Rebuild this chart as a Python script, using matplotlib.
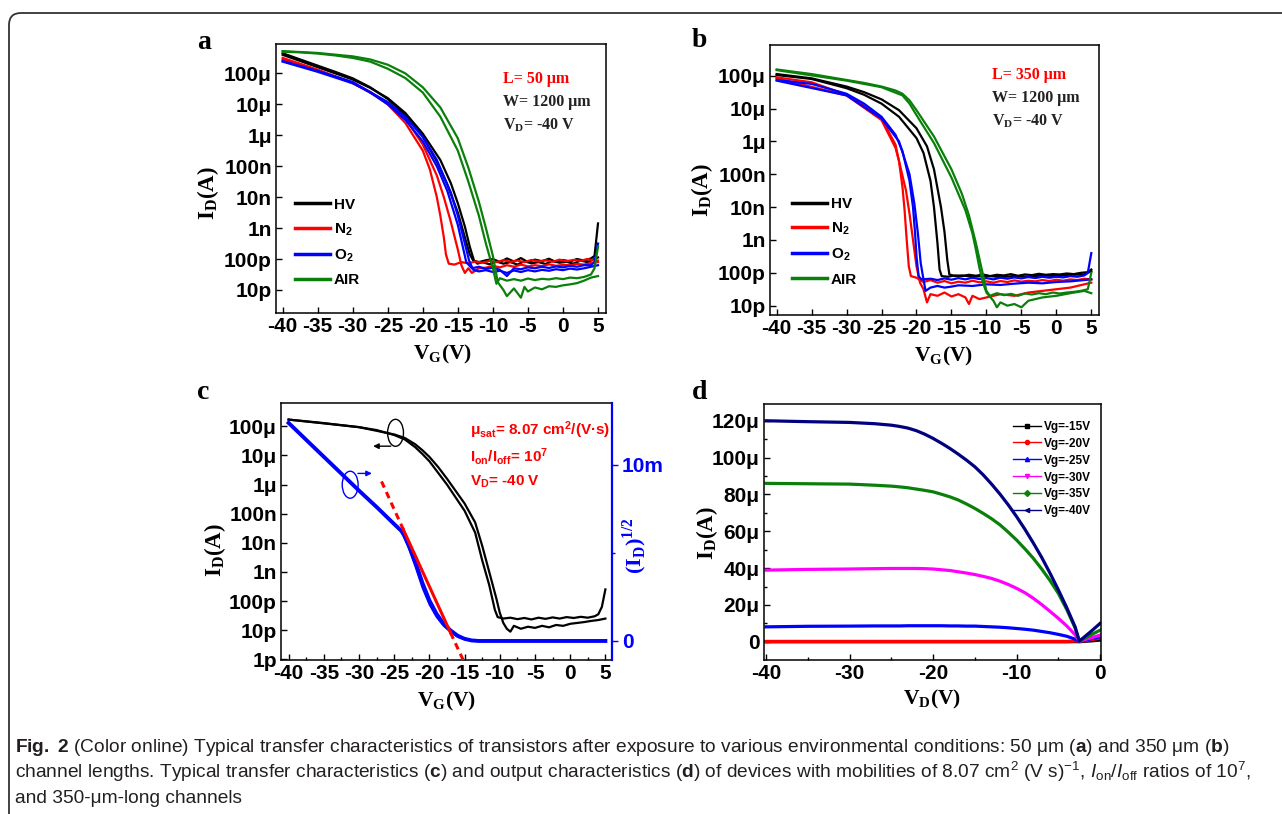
import numpy as np
import matplotlib
matplotlib.use('Agg')
import matplotlib.pyplot as plt
from matplotlib import font_manager
from matplotlib.patches import Ellipse, FancyBboxPatch
from matplotlib.lines import Line2D
from matplotlib.transforms import IdentityTransform
from matplotlib.ticker import FixedLocator, MultipleLocator, LogLocator, NullLocator, NullFormatter

W, H = 1282, 814

# ---------------- data (log10 of drain current in A) ----------------
# panel a: L = 50 um, two sweep branches per condition
a_hv1_v = [-40, -37.5, -35, -32.5, -30, -27.5, -25, -22.5, -20, -18, -16.5, -15, -14, -13.3, -12.8, -12, -11, -10, -9, -8,
           -7, -6, -5, -4, -3, -2, -1, 0, 1, 2, 3, 4, 4.5, 5]
a_hv1 = [-3.35, -3.55, -3.75, -3.95, -4.16, -4.45, -4.83, -5.35, -6.05, -6.85, -7.6, -8.5, -9.3, -9.85, -10.05, -10.1,
         -10.04, -10.0, -10.1, -9.98, -10.08, -9.97, -10.1, -10.02, -10.07, -9.99, -10.1, -10.03, -10.08, -10.0, -10.05,
         -9.98, -9.9, -8.85]
a_hv2_v = [-40, -35, -30, -27.5, -25, -22.5, -20, -17.5, -16, -15, -14, -13.3, -12.7, -12.2, -11.5, -10.5, -9.5, -8.5,
           -7.5, -6.5, -5.5, -4.5, -3.5, -2.5, -1.5, -0.5, 0.5, 1.5, 2.5, 3.5, 4.5, 5]
a_hv2 = [-3.4, -3.8, -4.2, -4.47, -4.8, -5.28, -5.95, -6.8, -7.55, -8.2, -8.95, -9.6, -10.05, -10.15, -10.1, -10.17,
         -10.08, -10.15, -10.1, -10.18, -10.07, -10.14, -10.1, -10.16, -10.06, -10.12, -10.09, -10.15, -10.05, -10.1,
         -10.0, -9.95]
a_n2_1_v = [-40, -35, -30, -27.5, -25, -22.5, -20, -19, -18, -17.5, -17, -16.7, -16.3, -15.5, -14.5, -13.5, -12.5,
            -11.5, -10.5, -9.5, -8.5, -7.5, -6.5, -5.5, -4.5, -3.5, -2.5, -1.5, -0.5, 0.5, 1.5, 2.5, 3.5, 4.5, 5]
a_n2_1 = [-3.5, -3.88, -4.32, -4.6, -5.0, -5.6, -6.5, -7.1, -8.0, -8.6, -9.3, -9.85, -10.15, -10.18, -10.1, -10.14,
          -10.08, -10.12, -10.06, -10.1, -10.04, -10.09, -10.05, -10.1, -10.03, -10.08, -10.04, -10.09, -10.02, -10.07,
          -10.03, -10.06, -10.0, -10.05, -10.05]
a_n2_2_v = [-40, -35, -30, -25, -22.5, -20, -18, -17, -16, -15, -14.5, -14, -13.5, -13, -12, -11, -10, -9, -8, -7,
            -6, -5, -4, -3, -2, -1, 0, 1, 2, 3, 4, 5]
a_n2_2 = [-3.55, -3.9, -4.3, -4.95, -5.45, -6.3, -7.3, -8.0, -8.8, -9.7, -10.2, -10.45, -10.3, -10.45, -10.3, -10.28,
          -10.22, -10.27, -10.2, -10.25, -10.18, -10.24, -10.2, -10.23, -10.17, -10.22, -10.19, -10.2, -10.16, -10.18,
          -10.13, -10.1]
a_o2_1_v = [-40, -35, -30, -27.5, -25, -22.5, -20, -18, -16.5, -15, -14.3, -13.8, -13, -12, -11, -10, -9, -8, -7, -6,
            -5, -4, -3, -2, -1, 0, 1, 2, 3, 4, 4.5, 5]
a_o2_1 = [-3.62, -3.95, -4.32, -4.62, -5.0, -5.5, -6.2, -7.0, -7.8, -8.9, -9.6, -10.1, -10.3, -10.25, -10.32, -10.28,
          -10.35, -10.55, -10.3, -10.33, -10.27, -10.3, -10.25, -10.29, -10.24, -10.27, -10.22, -10.25, -10.2, -10.2,
          -10.1, -9.5]
a_o2_2_v = [-40, -35, -30, -25, -22.5, -20, -18, -16, -15, -14, -13.4, -12.8, -12, -11, -10, -9, -8, -7, -6, -5,
            -4, -3, -2, -1, 0, 1, 2, 3, 4, 5]
a_o2_2 = [-3.6, -3.92, -4.28, -4.93, -5.4, -6.05, -6.8, -7.85, -8.6, -9.5, -10.05, -10.35, -10.4, -10.36, -10.42,
          -10.38, -10.45, -10.37, -10.42, -10.36, -10.4, -10.35, -10.38, -10.33, -10.36, -10.31, -10.34, -10.3, -10.25,
          -10.2]
a_air1_v = [-40, -37.5, -35, -32.5, -30, -27.5, -25, -22.5, -20, -17.5, -15, -13.5, -12, -11, -10, -9.5, -9, -8, -7,
            -6, -5, -4, -3, -2, -1, 0, 1, 2, 3, 4, 4.5, 5]
a_air1 = [-3.3, -3.32, -3.36, -3.42, -3.5, -3.62, -3.85, -4.15, -4.62, -5.4, -6.5, -7.5, -8.6, -9.5, -10.3, -10.8,
          -10.62, -10.7, -10.65, -10.7, -10.63, -10.68, -10.64, -10.66, -10.62, -10.65, -10.6, -10.62, -10.58, -10.5,
          -10.3, -9.6]
a_air2_v = [-40, -35, -30, -27.5, -25, -22.5, -20, -17.5, -15, -13.5, -12, -11, -10, -9.3, -8.5, -8, -7, -6, -5.5,
            -5, -4, -3, -2, -1, 0, 1, 2, 3, 4, 5]
a_air2 = [-3.28, -3.34, -3.45, -3.55, -3.72, -4.0, -4.45, -5.1, -6.1, -7.05, -8.15, -9.0, -9.9, -10.75, -11.0, -11.2,
          -10.95, -11.25, -10.9, -11.05, -10.92, -10.98, -10.88, -10.9, -10.85, -10.82, -10.78, -10.7, -10.6, -10.55]

# panel b: L = 350 um
b_hv1_v = [-40, -35, -30, -27.5, -25, -22.5, -20, -19, -18, -17.5, -17, -16.7, -16.4, -15.5, -14.5, -13.5, -12.5,
           -11.5, -10.5, -9.5, -8.5, -7.5, -6.5, -5.5, -4.5, -3.5, -2.5, -1.5, -0.5, 0.5, 1.5, 2.5, 3.5, 4.5, 5]
b_hv1 = [-3.98, -4.1, -4.38, -4.58, -4.85, -5.25, -5.9, -6.35, -7.2, -8.0, -9.1, -9.9, -10.1, -10.12, -10.08, -10.1,
         -10.06, -10.09, -10.05, -10.1, -10.06, -10.08, -10.04, -10.09, -10.05, -10.07, -10.03, -10.06, -10.04, -10.05,
         -10.02, -10.04, -10.0, -9.98, -9.9]
b_hv2_v = [-40, -35, -30, -27.5, -25, -22.5, -20, -18.5, -17.5, -16.5, -16, -15.6, -15.3, -14.5, -13.5, -12, -10, -8,
           -6, -4, -2, 0, 2, 4, 5]
b_hv2 = [-3.95, -4.08, -4.33, -4.5, -4.72, -5.05, -5.6, -6.15, -6.85, -8.0, -8.75, -9.6, -10.05, -10.1, -10.08,
         -10.12, -10.09, -10.13, -10.1, -10.12, -10.08, -10.1, -10.06, -10.05, -9.95]
b_n2_1_v = [-40, -35, -30, -27.5, -25, -23, -22.5, -22, -21.7, -21.4, -21.1, -20.8, -20, -19, -18, -17, -16, -15,
            -14, -13, -12, -11, -10, -9, -8, -7, -6, -5, -4, -3, -2, -1, 0, 1, 2, 3, 4, 5]
b_n2_1 = [-4.05, -4.2, -4.58, -4.9, -5.3, -6.1, -6.6, -7.4, -8.1, -9.0, -9.8, -10.1, -10.15, -10.28, -10.22, -10.3,
          -10.25, -10.32, -10.27, -10.3, -10.24, -10.29, -10.26, -10.3, -10.25, -10.28, -10.23, -10.27, -10.24,
          -10.26, -10.22, -10.25, -10.21, -10.24, -10.2, -10.22, -10.18, -10.2]
b_n2_2_v = [-40, -30, -25, -23, -22.5, -21.5, -21, -20.5, -20, -19.5, -19, -18.5, -18, -17, -16, -15, -14, -13,
            -12.5, -12, -11, -10, -8, -6, -4, -2, 0, 2, 4, 5]
b_n2_2 = [-4.08, -4.6, -5.35, -6.2, -6.6, -7.5, -8.2, -9.0, -9.8, -10.3, -10.5, -10.9, -10.65, -10.7, -10.6, -10.72,
          -10.65, -10.75, -10.95, -10.7, -10.8, -10.75, -10.65, -10.7, -10.6, -10.55, -10.5, -10.45, -10.35, -10.3]
b_o2_1_v = [-40, -35, -30, -27.5, -25, -23, -22, -21, -20.5, -20.2, -20, -19.7, -19.3, -18, -17, -16, -15, -14, -13,
            -12, -11, -10, -9, -8, -7, -6, -5, -4, -3, -2, -1, 0, 1, 2, 3, 4, 4.5, 5]
b_o2_1 = [-4.13, -4.25, -4.55, -4.85, -5.25, -5.8, -6.3, -7.2, -8.0, -8.8, -9.5, -10.1, -10.2, -10.18, -10.22,
          -10.17, -10.21, -10.16, -10.2, -10.15, -10.19, -10.16, -10.2, -10.15, -10.18, -10.14, -10.17, -10.13,
          -10.16, -10.12, -10.15, -10.12, -10.14, -10.1, -10.12, -10.08, -10.0, -9.4]
b_o2_2_v = [-40, -30, -25, -22.5, -21, -20.3, -19.8, -19.4, -19, -18.7, -18, -17, -16, -15, -14, -12, -10, -8, -6,
            -4, -2, 0, 2, 4, 5]
b_o2_2 = [-4.15, -4.6, -5.3, -6.0, -7.0, -7.9, -8.8, -9.7, -10.2, -10.55, -10.45, -10.4, -10.45, -10.42, -10.38,
          -10.4, -10.35, -10.37, -10.33, -10.3, -10.32, -10.28, -10.26, -10.22, -10.2]
b_air1_v = [-40, -35, -30, -27.5, -25, -23, -22, -21, -20, -17.5, -15, -13.5, -12.5, -11.5, -10.5, -10, -9.5, -8.5,
            -7.5, -6.5, -5.5, -4.5, -3.5, -2.5, -1.5, -0.5, 0.5, 1.5, 2.5, 3.5, 4.5, 5]
b_air1 = [-3.81, -3.95, -4.13, -4.22, -4.33, -4.45, -4.55, -4.75, -5.05, -5.85, -6.85, -7.6, -8.25, -9.1, -10.05,
          -10.55, -10.7, -10.62, -10.68, -10.64, -10.7, -10.63, -10.66, -10.62, -10.65, -10.6, -10.63, -10.6, -10.58,
          -10.55, -10.5, -10.0]
b_air2_v = [-40, -30, -25, -22, -21, -20, -17.5, -15, -13, -12, -11.5, -11, -10.5, -10, -9, -8.5, -8, -7, -6, -5,
            -4, -3, -2, 0, 2, 4, 5]
b_air2 = [-3.83, -4.15, -4.35, -4.6, -4.85, -5.2, -6.05, -7.1, -8.1, -8.8, -9.3, -9.85, -10.3, -10.6, -10.85, -11.05,
          -10.9, -11.0, -10.95, -11.05, -10.85, -10.8, -10.75, -10.7, -10.62, -10.55, -10.62]

# panel c: transfer curve (log10 A) and sqrt(ID) in units of 1e-3 A^1/2
c_fwd_v = [-40, -37.5, -35, -32.5, -30, -27.5, -25, -23.5, -22, -21, -20, -18.75, -17.5, -15, -13.5, -12.5, -11.5,
           -10.7, -10.3, -9.5, -8.5, -7.5, -6.5, -5.5, -4.5, -3.5, -2.5, -1.5, -0.5, 0.5, 1.5, 2.5, 3.5, 4, 4.5, 5]
c_fwd = [-3.77, -3.83, -3.89, -3.96, -4.03, -4.13, -4.3, -4.45, -4.72, -4.95, -5.2, -5.6, -6.0, -6.9, -7.65, -8.6,
         -9.45, -10.3, -10.55, -10.6, -10.57, -10.62, -10.58, -10.63, -10.57, -10.61, -10.56, -10.6, -10.55, -10.58,
         -10.54, -10.57, -10.52, -10.45, -10.2, -9.6]
c_rev_v = [-40, -30, -25, -23.5, -22, -21, -20, -18.75, -17.5, -15, -13.5, -12.5, -11.5, -10.5, -10, -9.5, -9, -8.5,
           -8, -7, -6, -5, -4, -3, -2, -1, 0, 1, 2, 3, 4, 5]
c_rev = [-3.77, -4.03, -4.28, -4.4, -4.62, -4.82, -5.05, -5.4, -5.8, -6.65, -7.3, -8.1, -9.0, -9.9, -10.4, -10.75,
         -10.95, -11.05, -10.85, -10.95, -10.88, -10.92, -10.85, -10.9, -10.82, -10.85, -10.78, -10.75, -10.72, -10.68,
         -10.65, -10.6]
c_sq1_v = [-40, -35, -30, -27.5, -25, -24, -23.5, -23, -22, -21, -20, -19, -18, -17, -16, -15, -14, -13, 5]
c_sq1 = [12.37, 10.45, 8.53, 7.6, 6.63, 6.25, 5.95, 5.5, 4.5, 3.3, 2.3, 1.55, 0.98, 0.6, 0.3, 0.12, 0.03, 0.0, 0.0]
c_sq2_v = [-40, -25, -24, -23, -22, -21, -20, -19, -18, -17, -16, -15, -14, 5]
c_sq2 = [12.37, 6.63, 6.2, 5.3, 4.2, 3.0, 2.05, 1.35, 0.85, 0.5, 0.22, 0.08, 0.0, 0.0]
fit_v = [-26.8, -23.7, -17.0, -15.2]
fit_sq = [9.05, 6.32, 0.47, -1.08]

# panel d: output curves, ID in uA
d_vd = [-40, -35, -30, -27, -25, -24, -23, -22, -21, -20, -19, -18, -17, -16, -15, -14, -13, -12, -11, -10,
        -9, -8, -7, -6, -5, -4, -3, -2.5, -2, -1, 0]
d_vg15 = [0.0] * 26 + [0.1, 0.0, 0.2, 0.5, 0.9]
d_vg20 = [0.2] * 26 + [0.4, 0.2, 0.5, 1.2, 2.0]
d_vg25 = [8.1, 8.4, 8.5, 8.6, 8.6, 8.6, 8.7, 8.7, 8.7, 8.7, 8.7, 8.6, 8.6, 8.5, 8.5, 8.3, 8.1, 7.9, 7.6, 7.2,
          6.8, 6.3, 5.6, 4.9, 4.0, 3.0, 1.4, 0.2, 0.7, 1.7, 2.7]
d_vg30 = [38.9, 39.3, 39.5, 39.7, 39.8, 39.8, 39.8, 39.8, 39.7, 39.5, 39.1, 38.7, 38.0, 37.3, 36.5, 35.5, 34.4,
          32.9, 31.1, 29.0, 26.6, 23.6, 20.2, 16.5, 12.7, 8.6, 3.8, 0.3, 1.0, 2.3, 3.6]
d_vg35 = [86.0, 85.8, 85.6, 85.0, 84.5, 84.1, 83.6, 82.9, 82.2, 81.4, 80.1, 78.7, 77.0, 74.8, 72.4, 69.7, 66.8,
          63.5, 59.5, 55.2, 50.4, 45.3, 39.5, 33.2, 26.2, 17.5, 7.5, 0.3, 1.6, 4.0, 6.3]
d_vg40 = [120.0, 119.5, 119.1, 118.4, 117.6, 116.9, 116.0, 114.6, 112.7, 110.4, 107.8, 105.0, 101.9, 98.6, 95.0,
          90.6, 85.6, 80.2, 74.3, 67.9, 61.0, 53.6, 45.8, 37.2, 28.1, 18.5, 8.1, 0.4, 2.2, 6.0, 10.0]

cond_labels = ['HV', 'N$_{\\mathregular{2}}$', 'O$_{\\mathregular{2}}$', 'AIR']
cond_colors = ['#000000', '#ff0000', '#0000ff', '#0a800a']
d_labels = ['Vg=-15V', 'Vg=-20V', 'Vg=-25V', 'Vg=-30V', 'Vg=-35V', 'Vg=-40V']
d_colors = ['#000000', '#ff0000', '#0000ff', '#ff00ff', '#0a800a', '#000080']
d_markers = ['s', 'o', '^', 'v', 'D', '<']
log_ticks = [1e-4, 1e-5, 1e-6, 1e-7, 1e-8, 1e-9, 1e-10, 1e-11, 1e-12]
log_labels = ['100μ', '10μ', '1μ', '100n', '10n', '1n', '100p', '10p', '1p']

# ---------------- fonts ----------------
names = {f.name for f in font_manager.fontManager.ttflist}
cap_family = 'Liberation Sans Narrow' if 'Liberation Sans Narrow' in names else 'Liberation Sans'

plt.rcParams.update({
    'font.family': 'Liberation Sans',
    'font.weight': 'bold',
    'font.size': 15,
    'axes.linewidth': 1.1,
    'axes.unicode_minus': False,
    'mathtext.fontset': 'custom',
    'mathtext.rm': cap_family + ':weight=normal',
    'mathtext.it': cap_family + ':italic:weight=normal',
    'mathtext.bf': cap_family + ':weight=bold',
})
SERIF = dict(family='Liberation Serif', weight='bold')
TICK = 15

fig = plt.figure(figsize=(W / 100, H / 100), dpi=100, facecolor='white')


def box(l, t, r, b):
    return [l / W, 1 - b / H, (r - l) / W, (b - t) / H]


def style(ax):
    ax.tick_params(which='both', direction='in', width=1, labelsize=TICK, pad=3)
    ax.tick_params(which='major', length=4)
    ax.tick_params(which='minor', length=2.5)


def log_axis(ax, ylim, n):
    ax.set_yscale('log')
    ax.set_ylim(*ylim)
    ax.yaxis.set_major_locator(FixedLocator(log_ticks[:n]))
    ax.yaxis.set_minor_locator(NullLocator())
    ax.set_yticklabels(log_labels[:n])


def transfer_panel(ax, curves, xlim, ylim, note, ylab_xy, xlab_xy, leg_xy, letter_xy, letter):
    for i, (v1, y1, v2, y2) in enumerate(curves):
        ax.plot(v1, np.power(10.0, y1), color=cond_colors[i], lw=1.6)
        ax.plot(v2, np.power(10.0, y2), color=cond_colors[i], lw=1.6)
    ax.set_xlim(*xlim)
    log_axis(ax, ylim, 8)
    ax.xaxis.set_major_locator(MultipleLocator(5))
    style(ax)
    handles = [Line2D([], [], color=c, lw=2.5) for c in cond_colors]
    ax.legend(handles, cond_labels, loc='upper left', bbox_to_anchor=leg_xy, frameon=False,
              prop=dict(family='Liberation Sans', weight='bold', size=11), handlelength=2.3,
              handletextpad=0.25, labelspacing=0.63, borderpad=0, borderaxespad=0)
    ax.text(note[0], note[1], note[2], transform=ax.transAxes, color='#ff0000', fontsize=11.5, va='center', **SERIF)
    ax.text(note[0], note[1] - 0.085, 'W= 1200 μm', transform=ax.transAxes, color='#222222', fontsize=11.5,
            va='center', **SERIF)
    ax.text(note[0], note[1] - 0.17, 'V$_{\\mathregular{D}}$= -40 V', transform=ax.transAxes, color='#222222',
            fontsize=11.5, va='center', **SERIF)
    ax.set_ylabel('I$_{\\mathregular{D}}$(A)', fontsize=16.5, va='center', **SERIF)
    ax.yaxis.set_label_coords(*ylab_xy)
    ax.set_xlabel('V$_{\\mathregular{G}}$(V)', fontsize=15.5, va='center', **SERIF)
    ax.xaxis.set_label_coords(*xlab_xy)
    fig.text(letter_xy[0] / W, 1 - letter_xy[1] / H, letter, fontsize=20, va='top', **SERIF)


# ---------------- panel a ----------------
ax_a = fig.add_axes(box(276, 44, 606, 313))
transfer_panel(ax_a,
               [(a_hv1_v, a_hv1, a_hv2_v, a_hv2), (a_n2_1_v, a_n2_1, a_n2_2_v, a_n2_2),
                (a_o2_1_v, a_o2_1, a_o2_2_v, a_o2_2), (a_air1_v, a_air1, a_air2_v, a_air2)],
               (-40.95, 6.14), (1.8e-12, 8.9e-4), (0.688, 0.87, 'L= 50 μm'),
               (-0.206, 0.446), (0.506, -0.156), (0.058, 0.429), (197, 30), 'a')

# ---------------- panel b ----------------
ax_b = fig.add_axes(box(770, 45, 1099, 315))
transfer_panel(ax_b,
               [(b_hv1_v, b_hv1, b_hv2_v, b_hv2), (b_n2_1_v, b_n2_1, b_n2_2_v, b_n2_2),
                (b_o2_1_v, b_o2_1, b_o2_2_v, b_o2_2), (b_air1_v, b_air1, b_air2_v, b_air2)],
               (-40.95, 6.1), (5.2e-12, 8.6e-4), (0.674, 0.889, 'L= 350 μm'),
               (-0.207, 0.463), (0.526, -0.154), (0.067, 0.437), (692, 28), 'b')

# ---------------- panel c ----------------
ax_c = fig.add_axes(box(281, 403, 612, 660))
ax_c.plot(c_fwd_v, np.power(10.0, c_fwd), color='k', lw=1.6)
ax_c.plot(c_rev_v, np.power(10.0, c_rev), color='k', lw=1.6)
ax_c.set_xlim(-41.08, 5.94)
log_axis(ax_c, (0.95e-12, 6.3e-4), 9)
ax_c.yaxis.set_minor_locator(LogLocator(base=10, subs=(2.0, 5.0)))
ax_c.yaxis.set_minor_formatter(NullFormatter())
ax_c.xaxis.set_major_locator(MultipleLocator(5))
ax_c.xaxis.set_minor_locator(MultipleLocator(2.5))
style(ax_c)
ax_c.set_ylabel('I$_{\\mathregular{D}}$(A)', fontsize=16.5, va='center', **SERIF)
ax_c.yaxis.set_label_coords(-0.198, 0.428)
ax_c.set_xlabel('V$_{\\mathregular{G}}$(V)', fontsize=15.5, va='center', **SERIF)
ax_c.xaxis.set_label_coords(0.50, -0.163)

ax_c2 = ax_c.twinx()
ax_c2.plot(c_sq1_v, c_sq1, color='#0000ff', lw=2.8)
ax_c2.plot(c_sq2_v, c_sq2, color='#0000ff', lw=1.1)
ax_c2.plot(fit_v[1:3], fit_sq[1:3], color='#ff0000', lw=2.2, zorder=5)
ax_c2.plot(fit_v[:2], fit_sq[:2], color='#ff0000', lw=2.2, ls=(0, (2.2, 1.6)), zorder=5)
ax_c2.plot(fit_v[2:], fit_sq[2:], color='#ff0000', lw=2.2, ls=(0, (2.2, 1.6)), zorder=5)
ax_c2.set_ylim(-1.08, 13.5)
ax_c2.set_yticks([0, 10])
ax_c2.set_yticklabels(['0', '10m'])
ax_c2.yaxis.set_minor_locator(FixedLocator([5]))
ax_c2.tick_params(axis='y', which='both', direction='out', colors='#0000ff', labelsize=TICK, width=1, pad=3)
ax_c2.tick_params(axis='y', which='major', length=4)
ax_c2.tick_params(axis='y', which='minor', length=2.5)
ax_c2.spines['right'].set_color('#0000ff')
ax_c2.spines['right'].set_linewidth(1.6)
for s in ['left', 'top', 'bottom']:
    ax_c2.spines[s].set_visible(False)
ax_c2.set_ylabel('(I$_{\\mathregular{D}}$)$^{\\mathregular{1/2}}$', fontsize=16, color='#0000ff', va='center',
                 rotation=90, **SERIF)
ax_c2.yaxis.set_label_coords(1.07, 0.447)

ax_c.add_patch(Ellipse((0.346, 0.884), 0.048, 0.105, transform=ax_c.transAxes, fill=False, ec='k', lw=1))
ax_c.annotate('', xy=(0.270, 0.832), xytext=(0.340, 0.832), xycoords='axes fraction',
              arrowprops=dict(arrowstyle='-|>', color='k', lw=1, mutation_scale=8))
ax_c.add_patch(Ellipse((0.209, 0.682), 0.048, 0.105, transform=ax_c.transAxes, fill=False, ec='#0000ff', lw=1))
ax_c.annotate('', xy=(0.283, 0.726), xytext=(0.224, 0.726), xycoords='axes fraction',
              arrowprops=dict(arrowstyle='-|>', color='#0000ff', lw=1, mutation_scale=8))
ax_c.text(0.572, 0.895, 'μ$_{\\mathregular{sat}}$= 8.07 cm$^{\\mathregular{2}}$/(V·s)', transform=ax_c.transAxes,
          color='#ff0000', fontsize=11, va='center')
ax_c.text(0.572, 0.791, 'I$_{\\mathregular{on}}$/I$_{\\mathregular{off}}$= 10$^{\\mathregular{7}}$',
          transform=ax_c.transAxes, color='#ff0000', fontsize=11, va='center')
ax_c.text(0.572, 0.694, 'V$_{\\mathregular{D}}$= -40 V', transform=ax_c.transAxes, color='#ff0000', fontsize=11,
          va='center')
fig.text(197 / W, 1 - 380 / H, 'c', fontsize=20, va='top', **SERIF)

# ---------------- panel d ----------------
ax_d = fig.add_axes(box(764, 404, 1101, 660))
d_series = [d_vg15, d_vg20, d_vg25, d_vg30, d_vg35, d_vg40]
for i, ser in enumerate(d_series):
    ax_d.plot(d_vd, ser, color=d_colors[i], lw=2.3)
ax_d.set_xlim(-40.25, 0.1)
ax_d.set_ylim(-9.9, 129.1)
ax_d.xaxis.set_major_locator(MultipleLocator(10))
ax_d.xaxis.set_minor_locator(MultipleLocator(5))
ax_d.yaxis.set_major_locator(MultipleLocator(20))
ax_d.yaxis.set_minor_locator(MultipleLocator(10))
ax_d.set_yticks([0, 20, 40, 60, 80, 100, 120])
ax_d.set_yticklabels(['0', '20μ', '40μ', '60μ', '80μ', '100μ', '120μ'])
style(ax_d)
d_handles = [Line2D([], [], color=c, lw=1, marker=m, markersize=3) for c, m in zip(d_colors, d_markers)]
ax_d.legend(d_handles, d_labels, loc='upper left', bbox_to_anchor=(0.739, 0.935), frameon=False,
            prop=dict(family='Liberation Sans', weight='bold', size=8.5), handlelength=2.4,
            handletextpad=0.25, labelspacing=0.42, borderpad=0, borderaxespad=0)
ax_d.set_ylabel('I$_{\\mathregular{D}}$(A)', fontsize=16.5, va='center', **SERIF)
ax_d.yaxis.set_label_coords(-0.17, 0.496)
ax_d.set_xlabel('V$_{\\mathregular{D}}$(V)', fontsize=15.5, va='center', **SERIF)
ax_d.xaxis.set_label_coords(0.50, -0.156)
fig.text(692 / W, 1 - 380 / H, 'd', fontsize=20, va='top', **SERIF)

# ---------------- frame and caption ----------------
frame = FancyBboxPatch((9, -60), 1400, H - 13 + 60, boxstyle='round,pad=0,rounding_size=12',
                       transform=IdentityTransform(), fill=False, ec='#333333', lw=1.3)
fig.add_artist(frame)

cap_lines = [
    '$\\mathbf{Fig.}$ $\\mathbf{2}$ (Color online) Typical transfer characteristics of transistors after exposure to '
    'various environmental conditions: 50 μm ($\\mathbf{a}$) and 350 μm ($\\mathbf{b}$)',
    'channel lengths. Typical transfer characteristics ($\\mathbf{c}$) and output characteristics ($\\mathbf{d}$) of '
    'devices with mobilities of 8.07 cm$^{2}$ (V s)$^{-1}$, $\\mathit{I}_{\\mathrm{on}}$/'
    '$\\mathit{I}_{\\mathrm{off}}$ ratios of 10$^{7}$,',
    'and 350-μm-long channels',
]
cap_y = [752, 778, 803]
cap_texts = [fig.text(15 / W, 1 - y / H, s, fontsize=11, family=cap_family, weight='normal', color='#231f20',
                      va='baseline') for s, y in zip(cap_lines, cap_y)]
fig.canvas.draw()
w0 = cap_texts[0].get_window_extent(fig.canvas.get_renderer()).width
for t in cap_texts:
    t.set_fontsize(11 * 1216 / w0)

fig.savefig('out.png', dpi=100, facecolor='white')
